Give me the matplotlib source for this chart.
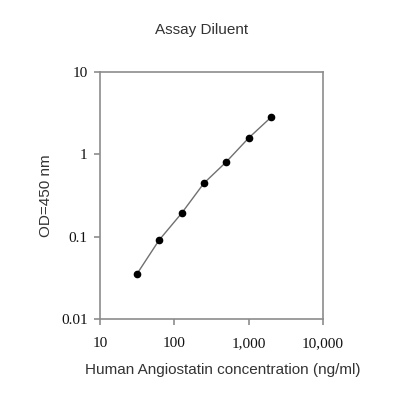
import numpy as np
import matplotlib
matplotlib.use('Agg')
import matplotlib.pyplot as plt
from matplotlib.ticker import FixedLocator, FixedFormatter, NullLocator

## Data
conc = [31.25, 62.5, 125, 250, 500, 1000, 2000]
od   = [0.035, 0.091, 0.192, 0.446, 0.81, 1.58, 2.82]

x_ticks  = [10, 100, 1000, 10000]
x_labels = ['10', '100', '1,000', '10,000']
y_ticks  = [0.01, 0.1, 1, 10]
y_labels = ['0.01', '0.1', '1', '10']

axis_col = '#8c8c8c'

fig = plt.figure(figsize=(4, 4), dpi=100)
ax = fig.add_axes([0.25, 0.2025, 0.5575, 0.6175])

ax.plot(conc, od, '-', color='#707070', lw=1.0, zorder=2)
ax.plot(conc, od, 'o', color='black', ms=4.5, zorder=3)

ax.set_xscale('log')
ax.set_yscale('log')
ax.set_xlim(10, 10000)
ax.set_ylim(0.01, 10)

ax.xaxis.set_major_locator(FixedLocator(x_ticks))
ax.xaxis.set_major_formatter(FixedFormatter(x_labels))
ax.yaxis.set_major_locator(FixedLocator(y_ticks))
ax.yaxis.set_major_formatter(FixedFormatter(y_labels))
ax.xaxis.set_minor_locator(NullLocator())
ax.yaxis.set_minor_locator(NullLocator())

for s in ax.spines.values():
    s.set_color(axis_col)
    s.set_linewidth(1.2)

ax.tick_params(direction='out', length=4, width=1.2, color=axis_col,
               labelsize=11, labelcolor='#111111')
ax.tick_params(axis='x', pad=9)
ax.tick_params(axis='y', pad=5)
for lab in ax.get_xticklabels() + ax.get_yticklabels():
    lab.set_family('Liberation Serif')

ax.set_xlabel('Human Angiostatin concentration (ng/ml)', family='Liberation Sans',
              fontsize=11, color='#333333')
ax.xaxis.set_label_coords(0.55, -0.18)
ax.set_ylabel('OD=450 nm', family='Liberation Sans', fontsize=11,
              color='#333333')
ax.yaxis.set_label_coords(-0.21, 0.5)
fig.text(0.505, 0.925, 'Assay Diluent', family='Liberation Sans', fontsize=11,
         color='#333333', ha='center', va='center')

fig.savefig('out.png', dpi=100)
